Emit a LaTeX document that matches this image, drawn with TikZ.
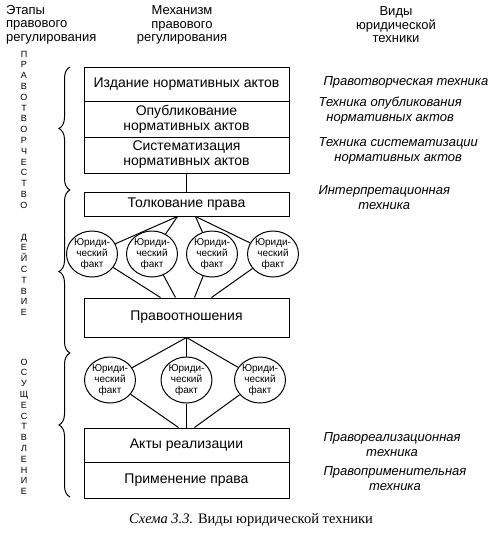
\documentclass[tikz,border=0pt]{standalone}
\usepackage{fontspec}
\setmainfont{Liberation Sans}
\newfontfamily\capfont{Liberation Serif}
\usetikzlibrary{decorations.pathreplacing,shapes.geometric}
\begin{document}
\begin{tikzpicture}[x=1pt,y=-1pt,
  box/.style={draw, line width=1pt, minimum width=205pt, inner sep=0pt, align=center, font=\fontsize{14}{15}\selectfont},
  fact/.style={draw, line width=1pt, ellipse, inner sep=0pt, align=center, font=\fontsize{10}{11}\selectfont},
  head/.style={align=center, font=\fontsize{13}{13.5}\selectfont},
  tech/.style={align=center, anchor=west, font=\itshape\fontsize{13}{15}\selectfont},
  vlet/.style={align=center, font=\fontsize{9}{10.8}\selectfont, inner sep=0pt},
  brc/.style={decorate, decoration={brace, amplitude=11pt}, line width=1pt},
  conn/.style={line width=1pt}]
\useasboundingbox (0,0) rectangle (500,535);

% headers
\node[head, align=left, anchor=north west, inner sep=0pt] (h1) at (6,5) {Этапы\\правового\\регулирования};
\node[head] (h2) at (182,25) {Механизм\\правового\\регулирования};
\node[head] (h3) at (396,25) {Виды\\юридической\\техники};

% vertical stage words
\node[vlet] (s1) at (24,129.6) {П\\Р\\А\\В\\О\\Т\\В\\О\\Р\\Ч\\Е\\С\\Т\\В\\О};
\node[vlet] (s2) at (24,274.8) {Д\\Е\\Й\\С\\Т\\В\\И\\Е};
\node[vlet] (s3) at (24,426.8) {О\\С\\У\\Щ\\Е\\С\\Т\\В\\Л\\Е\\Н\\И\\Е};

% braces
\draw[brc] (70,190) -- (70,67);
\draw[brc] (70,353) -- (70,190);
\draw[brc] (70,497) -- (70,353);

% boxes
\node[box, minimum height=34pt] (b1) at (186.5,84) {Издание нормативных актов};
\node[box, minimum height=36pt] (b2) at (186.5,119) {Опубликование\\нормативных актов};
\node[box, minimum height=36pt] (b3) at (186.5,155) {Систематизация\\нормативных актов};
\node[box, minimum height=24pt] (tolk) at (186.5,204) {Толкование права};
\node[box, minimum height=39pt] (pravo) at (186.5,317.5) {Правоотношения};
\node[box, minimum height=34pt] (akty) at (186.5,445) {Акты реализации};
\node[box, minimum height=36pt] (prim) at (186.5,480) {Применение права};

% facts row 1
\node[fact, minimum width=40pt, minimum height=46pt] (f1) at (92,254) {Юриди-\\ческий\\факт};
\node[fact, minimum width=40pt, minimum height=46pt] (f2) at (152,254) {Юриди-\\ческий\\факт};
\node[fact, minimum width=40pt, minimum height=46pt] (f3) at (212,254) {Юриди-\\ческий\\факт};
\node[fact, minimum width=40pt, minimum height=46pt] (f4) at (273,254) {Юриди-\\ческий\\факт};

% facts row 2
\node[fact, minimum width=46pt, minimum height=46pt] (g1) at (110,380) {Юриди-\\ческий\\факт};
\node[fact, minimum width=46pt, minimum height=46pt] (g2) at (186.5,380) {Юриди-\\ческий\\факт};
\node[fact, minimum width=46pt, minimum height=46pt] (g3) at (260,380) {Юриди-\\ческий\\факт};

% connectors
\draw[conn] (b3.south) -- (tolk.north);
\draw[conn] (f1) -- ([xshift=-9pt]tolk.south);
\draw[conn] (f2) -- ([xshift=-9pt]tolk.south);
\draw[conn] (f3) -- ([xshift=9pt]tolk.south);
\draw[conn] (f4) -- ([xshift=9pt]tolk.south);
\draw[conn] (f1) -- ([xshift=-26pt]pravo.north);
\draw[conn] (f2) -- ([xshift=-11pt]pravo.north);
\draw[conn] (f3) -- ([xshift=8pt]pravo.north);
\draw[conn] (f4) -- ([xshift=25pt]pravo.north);
\draw[conn] (pravo.south) -- (g1);
\draw[conn] (pravo.south) -- (g2);
\draw[conn] (pravo.south) -- (g3);
\draw[conn] (g1) -- ([xshift=-8pt]akty.north);
\draw[conn] (g2) -- (akty.north);
\draw[conn] (g3) -- ([xshift=8pt]akty.north);

% technique labels
\node[tech] (t1) at (320,82) {Правотворческая техника};
\node[tech] (t2) at (315,110.5) {Техника опубликования\\нормативных актов};
\node[tech] (t3) at (315,150.5) {Техника систематизации\\нормативных актов};
\node[tech] (t4) at (315,198) {Интерпретационная\\техника};
\node[tech] (t5) at (320,444.5) {Правореализационная\\техника};
\node[tech] (t6) at (320,478.5) {Правоприменительная\\техника};

% caption
\node[font=\capfont\fontsize{14.5}{16}\selectfont] (cap) at (251,520) {\textit{Схема 3.3.} Виды юридической техники};
\end{tikzpicture}
\end{document}
